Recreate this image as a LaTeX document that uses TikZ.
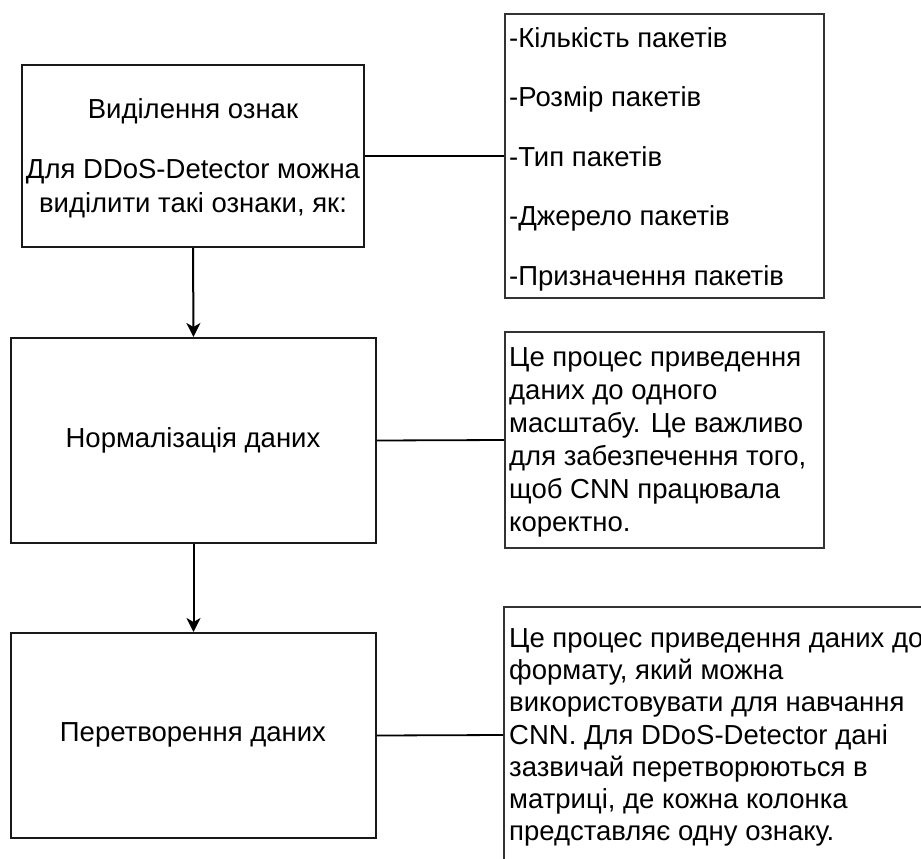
\documentclass[tikz,border=0pt]{standalone}
\usepackage{fontspec}
\setmainfont{Liberation Sans}
\usetikzlibrary{arrows.meta}

\tikzset{
  stagebox/.style={draw=black!90, line width=2pt, fill=white, inner sep=0pt},
  notebox/.style={draw=black!80, line width=2pt, fill=white, inner sep=0pt},
  caption/.style={inner sep=0pt, font=\fontsize{27.5}{34}\selectfont, align=center},
  notetext/.style={inner sep=0pt, anchor=north west, align=left, font=\fontsize{27.5}{33}\selectfont},
  link/.style={line width=1.8pt, draw=black},
  flow/.style={line width=2pt, draw=black, -{Stealth[length=14pt,width=14pt,inset=4pt]}}
}

\begin{document}
\begin{tikzpicture}[x=1pt,y=-1pt]
\useasboundingbox (0,0) rectangle (921,859);
\clip (0,0) rectangle (921,859);
\fill[white] (0,0) rectangle (921,859);

% left column: processing stages
\node[stagebox, minimum width=342, minimum height=182] (s1) at (193,156) {};
\node[stagebox, minimum width=365, minimum height=205] (s2) at (193.5,440.5) {};
\node[stagebox, minimum width=365, minimum height=205] (s3) at (193.5,735.5) {};

\node[caption, anchor=north] (t1) at (193,98)
  {Виділення ознак\\[26pt]Для DDoS-Detector можна\\виділити такі ознаки, як:};
\node[caption] (t2) at (193,440) {Нормалізація даних};
\node[caption] (t3) at (193,735) {Перетворення даних};

% right column: explanatory notes
\node[notebox, minimum width=319, minimum height=284] (n1) at (664.5,156) {};
\node[notebox, minimum width=319, minimum height=216] (n2) at (664.5,440) {};
\node[notebox, minimum width=430, minimum height=256] (n3) at (719,735) {};

\node[notetext, font=\fontsize{27.5}{59.5}\selectfont] (l1) at (509,27)
  {-Кількість пакетів\\-Розмір пакетів\\-Тип пакетів\\-Джерело пакетів\\-Призначення пакетів};
\node[notetext] (l2) at (509,347)
  {Це процес приведення\\даних до одного\\масштабу. Це важливо\\для забезпечення того,\\щоб CNN працювала\\коректно.};
\node[notetext, font=\fontsize{27.5}{32.3}\selectfont] (l3) at (509,628)
  {Це процес приведення даних до\\формату, який можна\\використовувати для навчання\\CNN. Для DDoS-Detector дані\\зазвичай перетворюються в\\матриці, де кожна колонка\\представляє одну ознаку.};

% connectors
\draw[link] (s1.east) -- (n1.west);
\draw[link] (s2.east) -- (n2.west);
\draw[link] (s3.east) -- (n3.west);
\draw[flow] (s1.south) -- (s2.north);
\draw[flow] (s2.south) -- (s3.north);
\end{tikzpicture}
\end{document}
